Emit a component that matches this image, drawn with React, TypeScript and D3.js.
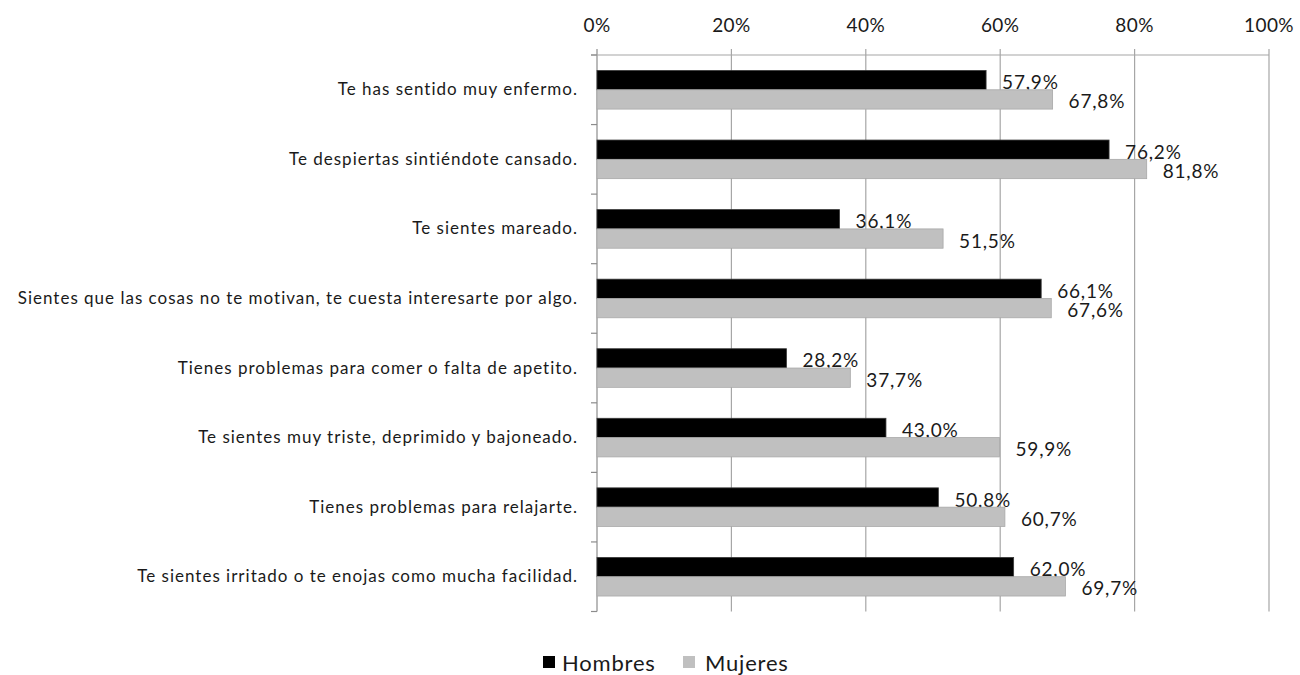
import React from "react";
import * as d3 from "d3";

const categories = [
  "Te has sentido muy enfermo.",
  "Te despiertas sintiéndote cansado.",
  "Te sientes mareado.",
  "Sientes que las cosas no te motivan, te cuesta interesarte por algo.",
  "Tienes problemas para comer o falta de apetito.",
  "Te sientes muy triste, deprimido y bajoneado.",
  "Tienes problemas para relajarte.",
  "Te sientes irritado o te enojas como mucha facilidad.",
];
const series = ["Hombres", "Mujeres"];
const hombres = [57.9, 76.2, 36.1, 66.1, 28.2, 43.0, 50.8, 62.0];
const mujeres = [67.8, 81.8, 51.5, 67.6, 37.7, 59.9, 60.7, 69.7];
const xTicks = [0, 20, 40, 60, 80, 100];

const colors: Record<string, string> = { Hombres: "#000000", Mujeres: "#c0c0c0" };
const strokes: Record<string, string> = { Hombres: "#3a3a3a", Mujeres: "#a8a8a8" };
const FONT = "Lato, 'Open Sans', sans-serif";
const TEXT = "#1a1a1a";

export default function App() {
  const W = 1300, H = 675;
  const x = d3.scaleLinear().domain([0, 100]).range([597, 1269]);
  const y = d3.scaleBand<string>().domain(categories).range([55, 611.5]).paddingInner(0).paddingOuter(0);
  const bw = y.bandwidth();
  const groupH = bw * 0.555;
  const fmt = (v: number) => d3.format(".1f")(v).replace(".", ",") + "%";
  const rows = categories.map((c, i) => ({ c, values: [hombres[i], mujeres[i]] }));

  return (
    <svg width={W} height={H} style={{ position: "absolute", left: 0, top: 0, background: "#fff" }} fontFamily={FONT}>
      {/* grid */}
      {xTicks.map((t) => (
        <g key={t}>
          <line x1={x(t)} x2={x(t)} y1={49} y2={611.5} stroke={t === 0 ? "#8c8c8c" : "#a6a6a6"} strokeWidth={1.2} />
          <text x={x(t)} y={31.5} textAnchor="middle" fontSize={19} letterSpacing={0.4} fill={TEXT}>{t}%</text>
        </g>
      ))}
      <line x1={591} x2={1269} y1={55} y2={55} stroke="#a6a6a6" strokeWidth={1.2} />
      {/* left ticks */}
      {d3.range(categories.length + 1).map((i) => (
        <line key={i} x1={591} x2={597} y1={55 + i * bw} y2={55 + i * bw} stroke="#8c8c8c" strokeWidth={1.2} />
      ))}
      {rows.map((r) => {
        const cy = (y(r.c) as number) + bw / 2;
        const inner = d3.scaleBand<string>().domain(series).range([cy - groupH / 2, cy + groupH / 2]);
        return (
          <g key={r.c}>
            <text x={578} y={cy - 1} textAnchor="end" dominantBaseline="central" fontSize={17} letterSpacing={1.0} fill={TEXT}>{r.c}</text>
            {series.map((s, j) => (
              <g key={s}>
                <rect x={x(0)} y={inner(s) as number} width={x(r.values[j]) - x(0)} height={inner.bandwidth()} fill={colors[s]} stroke={strokes[s]} strokeWidth={0.8} />
                <text x={x(r.values[j]) + 16} y={(inner(s) as number) + inner.bandwidth() / 2 + 1.5} dominantBaseline="central" fontSize={19} letterSpacing={0.8} fill={TEXT}>{fmt(r.values[j])}</text>
              </g>
            ))}
          </g>
        );
      })}
      {/* legend */}
      <g>
        <rect x={543} y={656} width={12} height={12} fill={colors.Hombres} />
        <text x={562} y={662.5} dominantBaseline="central" fontSize={22} letterSpacing={0.8} fill={TEXT}>Hombres</text>
        <rect x={683} y={656} width={12} height={12} fill={colors.Mujeres} />
        <text x={705} y={662.5} dominantBaseline="central" fontSize={22} letterSpacing={0.8} fill={TEXT}>Mujeres</text>
      </g>
    </svg>
  );
}
